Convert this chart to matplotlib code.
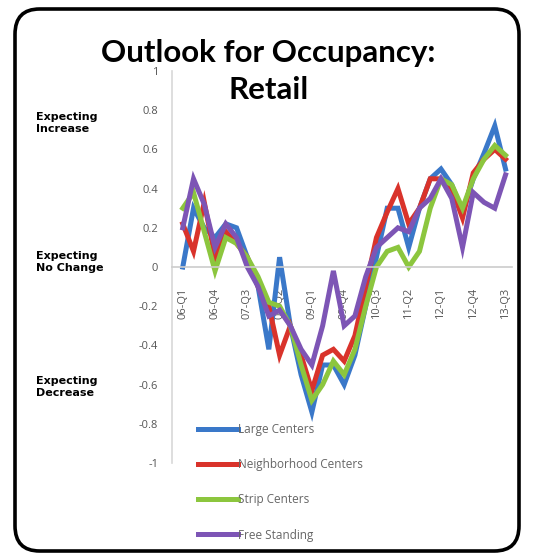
import matplotlib
matplotlib.use('Agg')
import matplotlib.pyplot as plt
from matplotlib.patches import FancyBboxPatch
import numpy as np

quarters = ['06-Q1', '06-Q2', '06-Q3', '06-Q4', '07-Q1', '07-Q2', '07-Q3', '07-Q4',
            '08-Q1', '08-Q2', '08-Q3', '08-Q4', '09-Q1', '09-Q2', '09-Q3', '09-Q4',
            '10-Q1', '10-Q2', '10-Q3', '10-Q4', '11-Q1', '11-Q2', '11-Q3', '11-Q4',
            '12-Q1', '12-Q2', '12-Q3', '12-Q4', '13-Q1', '13-Q2', '13-Q3']

large = [0.0, 0.3, 0.2, 0.15, 0.22, 0.2, 0.05, -0.1, -0.42, 0.05, -0.3, -0.55, -0.74, -0.5, -0.5, -0.6,
         -0.45, -0.2, 0.05, 0.3, 0.3, 0.1, 0.3, 0.45, 0.5, 0.42, 0.28, 0.45, 0.58, 0.72, 0.5]
neighborhood = [0.22, 0.08, 0.33, 0.05, 0.18, 0.12, 0.05, -0.1, -0.2, -0.45, -0.3, -0.45, -0.63, -0.45, -0.42, -0.48,
                -0.35, -0.1, 0.15, 0.28, 0.4, 0.22, 0.3, 0.45, 0.45, 0.4, 0.25, 0.48, 0.55, 0.6, 0.55]
strip = [0.3, 0.38, 0.18, -0.02, 0.15, 0.12, 0.05, -0.05, -0.18, -0.2, -0.3, -0.5, -0.68, -0.6, -0.48, -0.55,
         -0.42, -0.2, 0.0, 0.08, 0.1, 0.0, 0.08, 0.3, 0.45, 0.42, 0.3, 0.45, 0.55, 0.62, 0.57]
free_standing = [0.2, 0.45, 0.32, 0.1, 0.22, 0.15, 0.0, -0.1, -0.25, -0.22, -0.3, -0.42, -0.5, -0.3, -0.02, -0.3,
                 -0.25, -0.05, 0.1, 0.15, 0.2, 0.18, 0.3, 0.35, 0.45, 0.35, 0.1, 0.38, 0.33, 0.3, 0.47]

series = [('Large Centers', large, '#3a78c9'),
          ('Neighborhood Centers', neighborhood, '#d9332b'),
          ('Strip Centers', strip, '#8cc63e'),
          ('Free Standing', free_standing, '#7d55b5')]

plt.rcParams['font.family'] = ['Open Sans', 'DejaVu Sans']

W, H = 547, 560
fig = plt.figure(figsize=(W / 100, H / 100), dpi=100)

# rounded black frame
frame = FancyBboxPatch((15 / W, 9 / H), 504 / W, 542 / H,
                       boxstyle='round,pad=0,rounding_size=0.045',
                       transform=fig.transFigure, fill=False, lw=2.6, ec='black')
fig.patches.append(frame)

ax = fig.add_axes([172 / W, 1 - 463 / H, 340 / W, 392 / H])
x = np.arange(len(quarters))
for name, vals, col in series:
    ax.plot(x, vals, color=col, lw=3.6, label=name, solid_joinstyle='miter')

ax.set_ylim(-1, 1)
ax.set_xlim(-1.0, 30.6)
ax.set_yticks(np.arange(-1, 1.01, 0.2))
ax.set_yticklabels(['-1', '-0.8', '-0.6', '-0.4', '-0.2', '0', '0.2', '0.4', '0.6', '0.8', '1'])
ax.set_xticks(x[::3])
ax.set_xticklabels(quarters[::3])
ax.tick_params(axis='both', length=0, labelsize=8, colors='#555555')
ax.tick_params(axis='x', pad=15, labelrotation=90)
ax.tick_params(axis='y', pad=10)
for lbl in ax.get_xticklabels():
    lbl.set_va('top')
    lbl.set_ha('center')

for s in ['top', 'right']:
    ax.spines[s].set_visible(False)
ax.spines['bottom'].set_position(('data', 0))
ax.spines['bottom'].set_color('#cccccc')
ax.spines['left'].set_color('#d8d8d8')
ax.spines['bottom'].set_linewidth(1.2)
ax.spines['left'].set_linewidth(1.2)
ax.set_facecolor('none')

leg = ax.legend(loc='upper left', bbox_to_anchor=(198 / W, 1 - 423 / H),
                bbox_transform=fig.transFigure, frameon=False, fontsize=8.5,
                handlelength=3.4, handletextpad=0.0, labelspacing=1.88,
                borderaxespad=0, borderpad=0)
for t in leg.get_texts():
    t.set_color('#666666')

fig.text(268 / W, 1 - 53 / H, 'Outlook for Occupancy:', ha='center', va='center',
         fontsize=22.5, fontweight='bold', family=['Lato', 'DejaVu Sans'])
fig.text(269 / W, 1 - 90 / H, 'Retail', ha='center', va='center',
         fontsize=22.5, fontweight='bold', family=['Lato', 'DejaVu Sans'])

side = [('Expecting\nIncrease', 123), ('Expecting\nNo Change', 262), ('Expecting\nDecrease', 387)]
for txt, yy in side:
    fig.text(36 / W, 1 - yy / H, txt, ha='left', va='center', fontsize=8,
             fontweight='bold', linespacing=1.15, family=['DejaVu Sans'])

fig.savefig('out.png', dpi=100)
